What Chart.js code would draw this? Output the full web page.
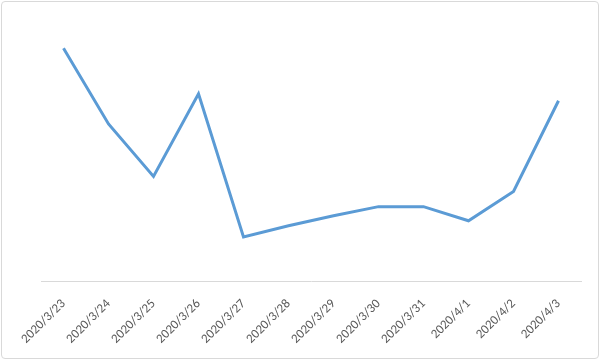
<!DOCTYPE html>
<html>
<head>
<meta charset="utf-8">
<script src="https://cdn.jsdelivr.net/npm/chart.js@4"></script>
<style>
  html, body { margin: 0; padding: 0; background: #fff; }
  #wrap { position: absolute; left: 1px; top: 1px; width: 596px; height: 356px; border: 1px solid #d9d9d9; border-radius: 4px; background:#fff; }
  canvas { display: block; }
</style>
</head>
<body>
<div id="wrap"><canvas id="c" width="596" height="356"></canvas></div>
<script>
const categories = ["2020/3/23","2020/3/24","2020/3/25","2020/3/26","2020/3/27","2020/3/28","2020/3/29","2020/3/30","2020/3/31","2020/4/1","2020/4/2","2020/4/3"];
const values = [231, 156, 104, 186, 44, 55, 65, 74, 74, 60, 89, 179];

new Chart(document.getElementById('c'), {
  type: 'line',
  data: {
    labels: categories,
    datasets: [{
      data: values,
      borderColor: '#5b9bd5',
      borderWidth: 3,
      pointRadius: 0,
      tension: 0,
      fill: false
    }]
  },
  options: {
    responsive: false,
    animation: false,
    plugins: { legend: { display: false }, tooltip: { enabled: false } },
    layout: { padding: { left: 39, right: 17, top: 7, bottom: 4 } },
    scales: {
      x: {
        offset: true,
        grid: { display: false },
        border: { display: true, color: '#d9d9d9', width: 1 },
        ticks: {
          color: '#595959',
          font: { family: 'Carlito, Calibri, "Open Sans", sans-serif', size: 13 },
          maxRotation: 45, minRotation: 45,
          autoSkip: false,
          padding: 7
        }
      },
      y: {
        display: false,
        min: 0, max: 270
      }
    }
  }
});
</script>
</body>
</html>
